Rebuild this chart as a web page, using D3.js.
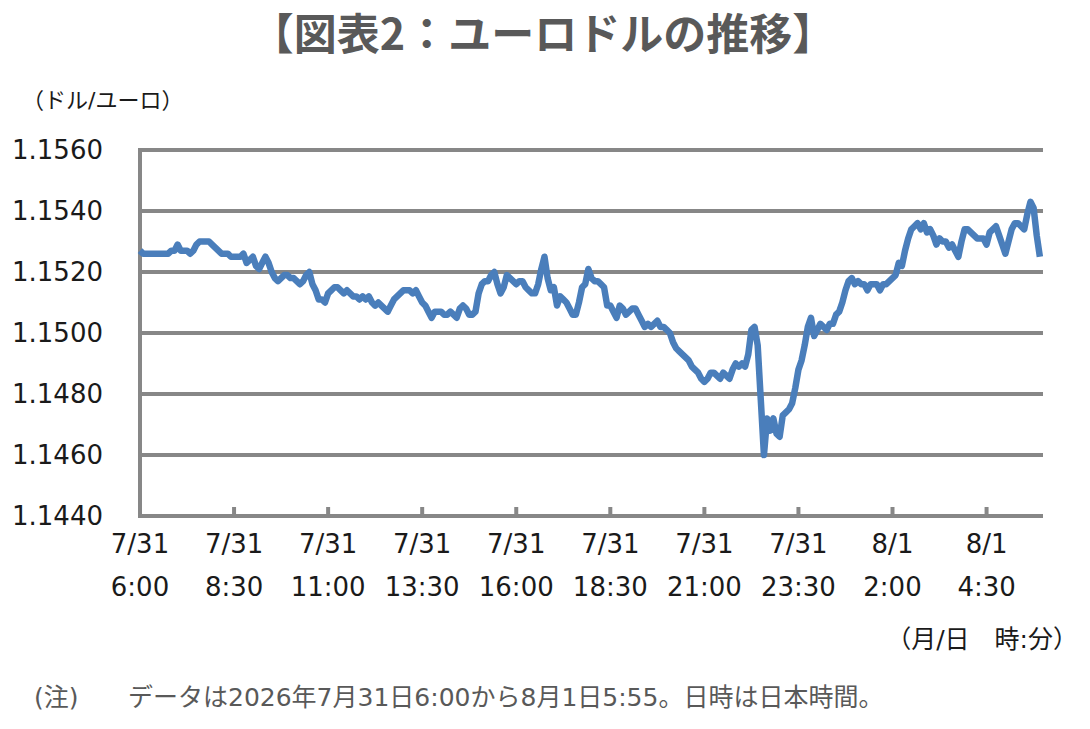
<!DOCTYPE html>
<html>
<head>
<meta charset="utf-8">
<script src="https://cdn.jsdelivr.net/npm/d3@7"></script>
<style>
  body { margin: 0; background: #fff; }
  svg { display: block; }
  text { font-family: "DejaVu Sans", "Noto Sans CJK JP", sans-serif; }
</style>
</head>
<body>
<div id="chart"></div>
<script>
// ユーロドル 5分足 (7/31 6:00 〜 8/1 5:55)、1行 = 1時間
var rate = [
  1.1527,1.1526,1.1526,1.1526,1.1526,1.1526,1.1526,1.1526,1.1526,1.1526,1.1527,1.1527, // 6時
  1.1529,1.1527,1.1527,1.1527,1.1526,1.1527,1.1529,1.1530,1.1530,1.1530,1.1530,1.1529, // 7時
  1.1528,1.1527,1.1526,1.1526,1.1526,1.1525,1.1525,1.1525,1.1525,1.1526,1.1523,1.1524, // 8時
  1.1525,1.1522,1.1521,1.1523,1.1525,1.1523,1.1520,1.1518,1.1517,1.1518,1.1519,1.1519, // 9時
  1.1518,1.1518,1.1517,1.1516,1.1517,1.1519,1.1520,1.1516,1.1514,1.1511,1.1511,1.1510, // 10時
  1.1513,1.1514,1.1515,1.1515,1.1514,1.1513,1.1514,1.1513,1.1512,1.1512,1.1511,1.1512, // 11時
  1.1511,1.1512,1.1510,1.1509,1.1510,1.1509,1.1508,1.1507,1.1509,1.1511,1.1512,1.1513, // 12時
  1.1514,1.1514,1.1514,1.1513,1.1514,1.1512,1.1510,1.1509,1.1507,1.1505,1.1507,1.1507, // 13時
  1.1507,1.1506,1.1506,1.1507,1.1506,1.1505,1.1508,1.1509,1.1508,1.1506,1.1506,1.1507, // 14時
  1.1513,1.1516,1.1517,1.1517,1.1519,1.1520,1.1516,1.1513,1.1515,1.1519,1.1518,1.1517, // 15時
  1.1516,1.1517,1.1517,1.1515,1.1514,1.1513,1.1513,1.1516,1.1521,1.1525,1.1518,1.1514, // 16時
  1.1515,1.1509,1.1512,1.1511,1.1510,1.1508,1.1506,1.1506,1.1510,1.1515,1.1516,1.1521, // 17時
  1.1518,1.1517,1.1517,1.1516,1.1515,1.1509,1.1509,1.1507,1.1505,1.1509,1.1508,1.1506, // 18時
  1.1507,1.1508,1.1508,1.1506,1.1504,1.1502,1.1503,1.1502,1.1503,1.1504,1.1502,1.1502, // 19時
  1.1501,1.1500,1.1497,1.1495,1.1494,1.1493,1.1492,1.1491,1.1489,1.1488,1.1487,1.1485, // 20時
  1.1484,1.1485,1.1487,1.1487,1.1486,1.1485,1.1487,1.1486,1.1485,1.1488,1.1490,1.1489, // 21時
  1.1490,1.1489,1.1493,1.1501,1.1502,1.1496,1.1478,1.1460,1.1472,1.1468,1.1472,1.1467, // 22時
  1.1466,1.1473,1.1474,1.1475,1.1477,1.1482,1.1488,1.1491,1.1496,1.1502,1.1505,1.1499, // 23時
  1.1501,1.1503,1.1502,1.1501,1.1503,1.1503,1.1506,1.1507,1.1510,1.1514,1.1517,1.1518, // 0時
  1.1516,1.1517,1.1516,1.1516,1.1514,1.1516,1.1516,1.1516,1.1514,1.1516,1.1516,1.1517, // 1時
  1.1518,1.1519,1.1523,1.1522,1.1527,1.1531,1.1534,1.1535,1.1536,1.1534,1.1536,1.1533, // 2時
  1.1534,1.1532,1.1529,1.1531,1.1530,1.1530,1.1528,1.1529,1.1527,1.1525,1.1530,1.1534, // 3時
  1.1534,1.1533,1.1532,1.1531,1.1531,1.1531,1.1529,1.1533,1.1534,1.1535,1.1532,1.1529, // 4時
  1.1526,1.1530,1.1534,1.1536,1.1536,1.1535,1.1534,1.1539,1.1543,1.1541,1.1532,1.1525  // 5時
];

var yTicks = [1.1440, 1.1460, 1.1480, 1.1500, 1.1520, 1.1540, 1.1560];
var xTickDays = ["7/31","7/31","7/31","7/31","7/31","7/31","7/31","7/31","8/1","8/1"];
var xTickTimes = ["6:00","8:30","11:00","13:30","16:00","18:30","21:00","23:30","2:00","4:30"];

var W = 1090, H = 729;
var plot = {left: 140, right: 1043, top: 150, bottom: 516};

var svg = d3.select("#chart").append("svg")
    .attr("width", W)
    .attr("height", H);

var start = new Date(2026, 6, 31, 6, 0);
var step = 5 * 60 * 1000;

var x = d3.scaleTime()
    .domain([start, new Date(+start + 288 * step)])
    .range([plot.left, plot.right]);

var y = d3.scaleLinear()
    .domain([1.1440, 1.1560])
    .range([plot.bottom, plot.top]);

// title
svg.append("text")
    .attr("x", 543)
    .attr("y", 50)
    .attr("text-anchor", "middle")
    .style("font-family", "'Noto Sans CJK JP'")
    .style("font-size", "43px")
    .style("font-weight", "bold")
    .style("fill", "#595959")
    .text("【図表2：ユーロドルの推移】");

svg.append("text")
    .attr("x", 22)
    .attr("y", 108)
    .style("font-size", "22px")
    .style("fill", "#1a1a1a")
    .text("（ドル/ユーロ）");

// gridlines
svg.append("g")
    .selectAll("line")
    .data(yTicks.slice(1))
    .enter().append("line")
    .attr("x1", plot.left)
    .attr("x2", plot.right)
    .attr("y1", function(d) { return y(d); })
    .attr("y2", function(d) { return y(d); })
    .style("stroke", "#878787")
    .style("stroke-width", 4);

// y labels
svg.append("g")
    .selectAll("text")
    .data(yTicks)
    .enter().append("text")
    .attr("x", 103)
    .attr("y", function(d) { return y(d) + 9; })
    .attr("text-anchor", "end")
    .style("font-size", "26px")
    .style("fill", "#1a1a1a")
    .text(function(d) { return d.toFixed(4); });

// axes lines
svg.append("line")
    .attr("x1", plot.left).attr("x2", plot.left)
    .attr("y1", plot.top - 2).attr("y2", plot.bottom + 2)
    .style("stroke", "#878787")
    .style("stroke-width", 4);

svg.append("line")
    .attr("x1", plot.left - 2).attr("x2", plot.right)
    .attr("y1", plot.bottom).attr("y2", plot.bottom)
    .style("stroke", "#878787")
    .style("stroke-width", 4);

var tickDates = xTickTimes.map(function(t, i) { return new Date(+start + i * 30 * step); });

var xt = svg.append("g")
    .selectAll("g")
    .data(tickDates)
    .enter().append("g")
    .attr("transform", function(d) { return "translate(" + x(d) + ",0)"; });

xt.append("line")
    .attr("y1", plot.bottom - 9)
    .attr("y2", plot.bottom)
    .style("stroke", "#878787")
    .style("stroke-width", 4);

xt.append("text")
    .attr("y", 553)
    .attr("text-anchor", "middle")
    .style("font-size", "26px")
    .style("fill", "#1a1a1a")
    .text(function(d, i) { return xTickDays[i]; });

xt.append("text")
    .attr("y", 596)
    .attr("text-anchor", "middle")
    .style("font-size", "26px")
    .style("fill", "#1a1a1a")
    .text(function(d, i) { return xTickTimes[i]; });

// line
var line = d3.line()
    .x(function(d, i) { return x(new Date(+start + i * step)); })
    .y(function(d) { return y(d); });

svg.append("path")
    .datum(rate)
    .attr("d", line)
    .style("fill", "none")
    .style("stroke", "#4a7ebb")
    .style("stroke-width", 6.5)
    .style("stroke-linejoin", "round");

svg.append("text")
    .attr("x", 1078)
    .attr("y", 648)
    .attr("text-anchor", "end")
    .style("font-size", "25px")
    .style("fill", "#1a1a1a")
    .text("（月/日　時:分）");

// note
svg.append("text")
    .attr("x", 34)
    .attr("y", 706)
    .style("font-size", "25px")
    .style("fill", "#595959")
    .text("(注)");

svg.append("text")
    .attr("x", 128)
    .attr("y", 706)
    .style("font-size", "25px")
    .style("fill", "#595959")
    .text("データは2026年7月31日6:00から8月1日5:55。日時は日本時間。");
</script>
</body>
</html>
